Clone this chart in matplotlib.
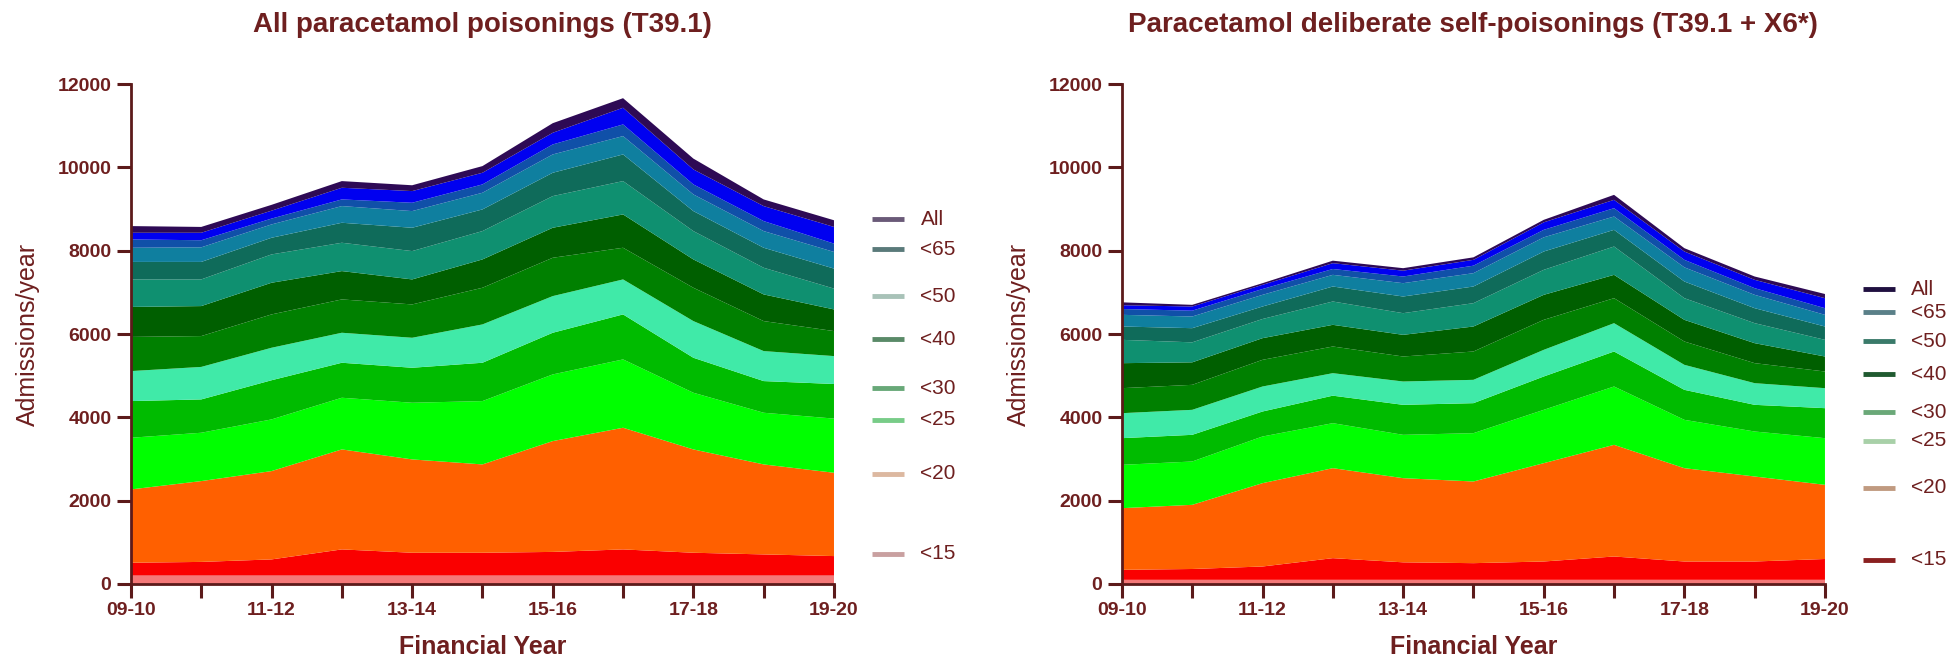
import matplotlib
matplotlib.use("Agg")
import matplotlib.pyplot as plt
import matplotlib.transforms as mtransforms
import numpy as np

plt.rcParams["font.family"] = ["Liberation Sans", "DejaVu Sans"]

years = ["09-10", "10-11", "11-12", "12-13", "13-14", "14-15",
         "15-16", "16-17", "17-18", "18-19", "19-20"]
tick_labels = ["09-10", "", "11-12", "", "13-14", "", "15-16", "", "17-18", "", "19-20"]

# age bands, bottom to top
bands = ["<10", "10-14", "15-19", "20-24", "25-29", "30-34", "35-39",
         "40-44", "45-49", "50-54", "55-59", "60-64", "65-74", "75+"]
band_colors = ["#f47878", "#fa0000", "#ff6000", "#00ff00", "#00bb00", "#40eaa8",
               "#008000", "#005f00", "#0f9070", "#0f6b5a", "#0f7f9f", "#1050a8",
               "#0000f0", "#2e0a55"]

# All paracetamol poisonings (T39.1)
all_lt10 = [210, 210, 210, 210, 210, 210, 210, 210, 210, 210, 210]
all_10_14 = [300, 320, 380, 620, 540, 540, 560, 620, 540, 500, 460]
all_15_19 = [1760, 1940, 2120, 2400, 2240, 2120, 2660, 2920, 2480, 2160, 2000]
all_20_24 = [1240, 1160, 1240, 1240, 1360, 1520, 1600, 1640, 1360, 1240, 1300]
all_25_29 = [880, 800, 940, 840, 840, 920, 1000, 1080, 840, 760, 830]
all_30_34 = [720, 780, 780, 720, 720, 920, 880, 840, 880, 720, 670]
all_35_39 = [820, 740, 800, 800, 800, 880, 920, 760, 800, 720, 600]
all_40_44 = [720, 720, 760, 680, 600, 680, 720, 800, 680, 640, 520]
all_45_49 = [660, 640, 680, 680, 680, 680, 760, 800, 680, 640, 500]
all_50_54 = [420, 420, 400, 480, 560, 520, 560, 640, 480, 480, 480]
all_55_59 = [340, 350, 320, 400, 400, 400, 440, 440, 400, 400, 400]
all_60_64 = [200, 170, 140, 160, 200, 200, 240, 280, 240, 240, 200]
all_65_74 = [160, 180, 190, 280, 280, 280, 280, 400, 360, 360, 400]
all_75p = [160, 140, 140, 160, 140, 160, 230, 230, 260, 160, 160]

# Paracetamol deliberate self-poisonings (T39.1 + X6*)
dsp_lt10 = [100, 100, 100, 100, 100, 100, 100, 100, 100, 100, 100]
dsp_10_14 = [240, 260, 320, 520, 420, 400, 440, 560, 440, 440, 500]
dsp_15_19 = [1480, 1540, 2000, 2160, 2020, 1960, 2360, 2680, 2240, 2040, 1780]
dsp_20_24 = [1040, 1040, 1120, 1080, 1040, 1160, 1280, 1400, 1160, 1080, 1120]
dsp_25_29 = [640, 640, 600, 660, 720, 720, 800, 840, 720, 640, 720]
dsp_30_34 = [600, 600, 600, 540, 560, 560, 640, 680, 600, 520, 480]
dsp_35_39 = [600, 600, 640, 640, 600, 680, 720, 600, 560, 480, 400]
dsp_40_44 = [600, 540, 520, 520, 520, 600, 600, 560, 520, 480, 360]
dsp_45_49 = [560, 480, 460, 560, 520, 560, 600, 680, 520, 480, 400]
dsp_50_54 = [320, 340, 300, 360, 400, 400, 440, 400, 400, 360, 320]
dsp_55_59 = [280, 280, 280, 280, 320, 320, 340, 320, 340, 320, 280]
dsp_60_64 = [140, 140, 140, 140, 160, 180, 180, 200, 180, 160, 160]
dsp_65_74 = [90, 100, 100, 140, 140, 140, 180, 200, 200, 200, 240]
dsp_75p = [70, 40, 40, 60, 60, 60, 60, 120, 80, 80, 100]

all_series = [all_lt10, all_10_14, all_15_19, all_20_24, all_25_29, all_30_34, all_35_39,
              all_40_44, all_45_49, all_50_54, all_55_59, all_60_64, all_65_74, all_75p]
dsp_series = [dsp_lt10, dsp_10_14, dsp_15_19, dsp_20_24, dsp_25_29, dsp_30_34, dsp_35_39,
              dsp_40_44, dsp_45_49, dsp_50_54, dsp_55_59, dsp_60_64, dsp_65_74, dsp_75p]

# right-hand key labels and where they sit (y in data units)
group_labels = ["<15", "<20", "<25", "<30", "<40", "<50", "<65", "All"]
all_label_y = [720, 2640, 3936, 4704, 5880, 6912, 8040, 8760]
dsp_label_y = [576, 2304, 3432, 4128, 5040, 5832, 6528, 7080]
all_label_colors = ["#c9a0a0", "#dcb8a0", "#78cc88", "#68a878", "#5a8a68",
                    "#a8c2b8", "#5a7a7a", "#6a5a78"]
dsp_label_colors = ["#8a2020", "#c09a80", "#a8d0a8", "#6aa878", "#205a30",
                    "#3a7a6a", "#5a8088", "#201040"]

text_col = "#6e1f1f"
axis_col = "#5c1a1a"

fig = plt.figure(figsize=(19.6, 6.61), dpi=100)

panels = [
    ([0.0668, 0.1165, 0.3587, 0.7564], "All paracetamol poisonings (T39.1)",
     all_series, all_label_y, all_label_colors),
    ([0.5724, 0.1165, 0.3587, 0.7564], "Paracetamol deliberate self-poisonings (T39.1 + X6*)",
     dsp_series, dsp_label_y, dsp_label_colors),
]

x = np.arange(len(years))
for rect, title, series, label_y, label_colors in panels:
    ax = fig.add_axes(rect)
    ax.stackplot(x, *series, colors=band_colors, linewidth=0, labels=bands)
    ax.set_xlim(0, len(years) - 1)
    ax.set_ylim(0, 12000)
    ax.set_yticks(range(0, 12001, 2000))
    ax.set_xticks(x)
    ax.set_xticklabels(tick_labels, fontweight="bold")
    for lab in ax.get_yticklabels():
        lab.set_fontweight("bold")
    for s in ["top", "right"]:
        ax.spines[s].set_visible(False)
    for s in ["left", "bottom"]:
        ax.spines[s].set_color(axis_col)
        ax.spines[s].set_linewidth(2)
    ax.tick_params(axis="both", length=10, width=2.2, color=axis_col,
                   labelsize=14, labelcolor=text_col)
    ax.tick_params(axis="y", pad=4)
    ax.tick_params(axis="x", pad=3)

    ax.text(0.5, 1.118, title, transform=ax.transAxes, ha="center", va="center",
            fontsize=20, fontweight="bold", color=text_col)
    ax.text(0.5, -0.126, "Financial Year", transform=ax.transAxes, ha="center",
            va="center", fontsize=18, fontweight="bold", color=text_col)
    ax.text(-0.1465, 0.5, "Admissions/year", transform=ax.transAxes, rotation=90,
            ha="center", va="center", fontsize=18, color=text_col)

    trans = mtransforms.blended_transform_factory(ax.transAxes, ax.transData)
    for name, yv, col in zip(group_labels, label_y, label_colors):
        ax.plot([1.054, 1.099], [yv, yv], color=col, lw=3.5, transform=trans,
                clip_on=False, solid_capstyle="butt")
        ax.text(1.123, yv, name, transform=trans, ha="left", va="center",
                fontsize=15, color=text_col)

fig.savefig("out.png", dpi=100)
